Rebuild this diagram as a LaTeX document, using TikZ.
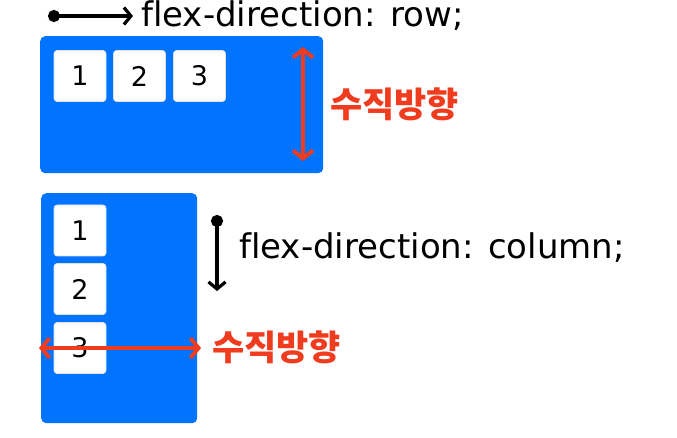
\documentclass[tikz,border=0pt]{standalone}
\usepackage{fontspec}
\setmainfont{DejaVu Sans}[Ligatures=NoCommon]
\newfontfamily\kofont{Noto Sans CJK KR}
\usetikzlibrary{arrows.meta}
\definecolor{flexblue}{RGB}{0,115,255}
\definecolor{flexred}{RGB}{240,60,30}
\tikzset{
  container/.style={fill=flexblue, rounded corners=5pt, draw=none},
  item/.style={fill=white, draw=black!12, line width=0.6pt, rounded corners=3pt, minimum width=52pt, minimum height=51pt, inner sep=0pt, font=\fontsize{27pt}{30pt}\selectfont},
  label/.style={font=\fontsize{34pt}{38pt}\selectfont, inner sep=0pt},
  redlabel/.style={font=\kofont\fontsize{35pt}{38pt}\selectfont\bfseries, text=flexred, inner sep=0pt},
  blackarrow/.style={line width=3.2pt, black, {Circle[length=12pt,width=12pt]}-{Straight Barb[length=7pt,width=17pt,line width=3.2pt]}},
  redarrow/.style={line width=4pt, flexred, {Straight Barb[length=8pt,width=20pt,line width=4pt]}-{Straight Barb[length=8pt,width=20pt,line width=4pt]}}
}
\begin{document}
\begin{tikzpicture}[x=1pt,y=-1pt]
\useasboundingbox (0,0) rectangle (677,438);
% top container
\node[container, minimum width=283pt, minimum height=137pt, anchor=north west] (rowbox) at (40,36) {};
\node[item] (r1) at (80,76) {1};
\node[item] (r2) at (139.5,76) {2};
\node[item] (r3) at (199.5,76) {3};
\coordinate (rtop) at (303,47);
\coordinate (rbot) at (303,161);
\draw[redarrow] (rtop) -- (rbot);
\node[redlabel, anchor=west] (rlab) at (330,104) {수직방향};
\coordinate (rowstart) at (48,16);
\coordinate (rowend) at (133,16);
\draw[blackarrow] (rowstart) -- (rowend);
\node[label, anchor=base west] (rowtxt) at (141,27) {flex-direction: row;};
% bottom container
\node[container, minimum width=156pt, minimum height=230pt, anchor=north west] (colbox) at (41,193) {};
\node[item] (c1) at (80,230.5) {1};
\node[item] (c2) at (80,289) {2};
\node[item] (c3) at (80,348) {3};
\coordinate (cl) at (39,348);
\coordinate (cr) at (201,348);
\draw[redarrow] (cl) -- (cr);
\node[redlabel, anchor=west] (clab) at (212,347) {수직방향};
\coordinate (colstart) at (217,215);
\coordinate (colend) at (217,291);
\draw[blackarrow] (colstart) -- (colend);
\node[label, anchor=base west] (coltxt) at (239,259) {flex-direction: column;};
\end{tikzpicture}
\end{document}
